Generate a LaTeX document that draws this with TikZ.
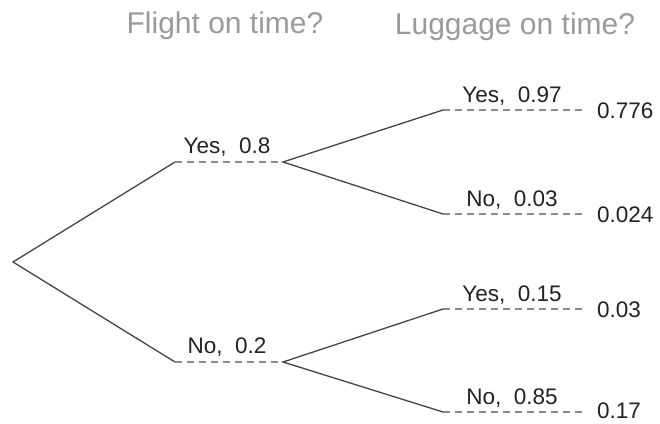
\documentclass[tikz,border=0pt]{standalone}
\usepackage{fontspec}
\setmainfont{Liberation Sans}
\definecolor{solidc}{HTML}{444444}
\definecolor{dashc}{HTML}{8A8A8A}
\definecolor{labc}{HTML}{222222}
\definecolor{headc}{HTML}{9A9A9A}
\begin{document}
\begin{tikzpicture}[x=1pt,y=-1pt,
  branch/.style={draw=solidc,line width=1.3pt},
  outcome/.style={draw=dashc,line width=1.3pt,dash pattern=on 7pt off 5pt},
  lab/.style={anchor=base,inner sep=0pt,text=labc,font=\fontsize{22.5}{27}\selectfont},
  res/.style={anchor=base west,inner sep=0pt,text=labc,font=\fontsize{22.5}{27}\selectfont},
  head/.style={anchor=base,inner sep=0pt,text=headc,font=\fontsize{30}{36}\selectfont}]
\useasboundingbox (0,0) rectangle (660,423);
% headers
\node[head] (h1) at (225,33) {Flight on time?};
\node[head] (h2) at (515,34) {Luggage on time?};
% junctions
\coordinate (root) at (13,262);
\coordinate (a1) at (175,162); \coordinate (a2) at (283,162);
\coordinate (b1) at (175,362); \coordinate (b2) at (283,362);
\coordinate (c1) at (443,110); \coordinate (c2) at (585,110);
\coordinate (d1) at (443,214); \coordinate (d2) at (585,214);
\coordinate (e1) at (443,309); \coordinate (e2) at (585,309);
\coordinate (f1) at (443,412); \coordinate (f2) at (585,412);
% solid branches
\draw[branch] (a1) -- (root) -- (b1);
\draw[branch] (c1) -- (a2) -- (d1);
\draw[branch] (e1) -- (b2) -- (f1);
% dashed outcome lines
\draw[outcome] (a1) -- (a2);
\draw[outcome] (b1) -- (b2);
\draw[outcome] (c1) -- (c2);
\draw[outcome] (d1) -- (d2);
\draw[outcome] (e1) -- (e2);
\draw[outcome] (f1) -- (f2);
% labels
\node[lab] (la) at (227,153) {Yes,\ \ 0.8};
\node[lab] (lb) at (227,353) {No,\ \ 0.2};
\node[lab] (lc) at (512,102) {Yes,\ \ 0.97};
\node[lab] (ld) at (512,206) {No,\ \ 0.03};
\node[lab] (le) at (512,301) {Yes,\ \ 0.15};
\node[lab] (lf) at (512,404) {No,\ \ 0.85};
% results
\node[res] (rc) at (597,118) {0.776};
\node[res] (rd) at (597,222) {0.024};
\node[res] (re) at (597,317) {0.03};
\node[res] (rf) at (597,418) {0.17};
\end{tikzpicture}
\end{document}
